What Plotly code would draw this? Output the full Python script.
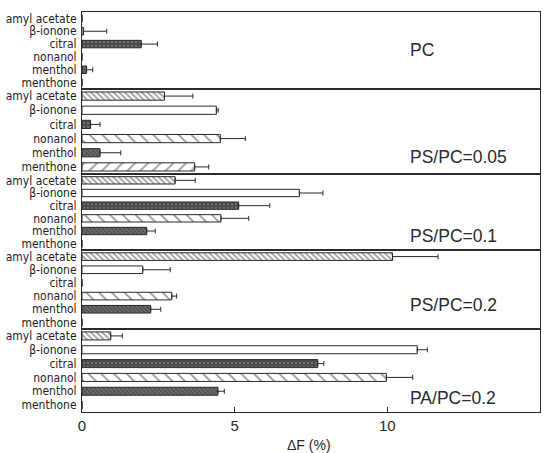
import plotly.graph_objects as go
from plotly.subplots import make_subplots

odorants = ["amyl acetate", "β-ionone", "citral", "nonanol", "menthol", "menthone"]
panels = ["PC", "PS/PC=0.05", "PS/PC=0.1", "PS/PC=0.2", "PA/PC=0.2"]

pc_mean = [0, 0.05, 1.94, 0, 0.15, 0]
pc_sd = [0, 0.76, 0.53, 0, 0.20, 0]
ps005_mean = [2.70, 4.40, 0.28, 4.53, 0.59, 3.69]
ps005_sd = [0.93, 0.06, 0.31, 0.82, 0.68, 0.46]
ps01_mean = [3.05, 7.12, 5.13, 4.55, 2.12, 0]
ps01_sd = [0.66, 0.77, 1.02, 0.91, 0.28, 0]
ps02_mean = [10.17, 1.99, 0, 2.94, 2.25, 0]
ps02_sd = [1.49, 0.90, 0, 0.16, 0.33, 0]
pa02_mean = [0.94, 10.98, 7.72, 9.97, 4.45, 0]
pa02_sd = [0.38, 0.33, 0.20, 0.86, 0.21, 0]

means = [pc_mean, ps005_mean, ps01_mean, ps02_mean, pa02_mean]
sds = [pc_sd, ps005_sd, ps01_sd, ps02_sd, pa02_sd]

x_ticks = [0, 5, 10, 15]
x_title = "ΔF (%)"

INK = "#2a2a2a"

# per-odorant fill styles
styles = {
    "amyl acetate": dict(color="white", pattern=dict(shape="\\", size=4, solidity=0.45, fgcolor="#333", bgcolor="white")),
    "β-ionone": dict(color="white"),
    "citral": dict(color="#555", pattern=dict(shape=".", size=4, solidity=0.25, fgcolor="#999", bgcolor="#4a4a4a")),
    "nonanol": dict(color="white", pattern=dict(shape="\\", size=9, solidity=0.2, fgcolor="#333", bgcolor="white")),
    "menthol": dict(color="#666", pattern=dict(shape="\\", size=3, solidity=0.5, fgcolor="#2a2a2a", bgcolor="#707070")),
    "menthone": dict(color="white", pattern=dict(shape="/", size=9, solidity=0.2, fgcolor="#333", bgcolor="white")),
}

row_px = [77, 85, 76, 79, 83]
fig = make_subplots(rows=5, cols=1, shared_xaxes=True, vertical_spacing=0,
                    row_heights=row_px)

for r, (m, s) in enumerate(zip(means, sds), start=1):
    for i, od in enumerate(odorants):
        st = styles[od]
        marker = dict(color=st["color"], line=dict(color=INK, width=1))
        if "pattern" in st:
            marker["pattern"] = st["pattern"]
        fig.add_trace(go.Bar(
            x=[m[i]], y=[od], orientation="h", width=0.58,
            marker=marker, showlegend=False,
            error_x=dict(type="data", symmetric=False, array=[s[i]], arrayminus=[0],
                         color=INK, thickness=1, width=2.5,
                         visible=bool(s[i] > 0)),
        ), row=r, col=1)

axis_font = dict(family="DejaVu Sans Condensed, Liberation Sans Narrow, Arial Narrow, sans-serif",
                 size=12, color="#1e1e1e")

for r in range(1, 6):
    fig.update_yaxes(type="category", categoryorder="array", categoryarray=odorants,
                     tickmode="array", tickvals=odorants, ticktext=odorants,
                     autorange="reversed", showline=True, mirror=True, linecolor=INK,
                     linewidth=1, ticks="", showgrid=False, zeroline=False, automargin=False,
                     tickfont=axis_font, ticklabelstandoff=2, row=r, col=1)
    fig.update_xaxes(range=[0, 15], showline=True, mirror=True, linecolor=INK,
                     linewidth=1, showgrid=False, zeroline=False, automargin=False,
                     row=r, col=1)

fig.update_xaxes(tickvals=x_ticks, ticks="inside", ticklen=5, tickcolor=INK,
                 tickfont=dict(family="Liberation Sans, Arial, sans-serif", size=15, color=INK),
                 row=5, col=1)

# x axis title
fig.add_annotation(text=x_title, xref="paper", yref="paper", x=0.495, y=-0.0825,
                   xanchor="center", yanchor="middle", showarrow=False,
                   font=dict(family="Liberation Sans, Arial, sans-serif", size=14, color=INK))

# panel labels (paper coords)
label_y = [0.905, 0.6375, 0.44, 0.2675, 0.036]
for txt, yy in zip(panels, label_y):
    fig.add_annotation(text=txt, xref="paper", yref="paper", x=0.711, y=yy,
                       xanchor="left", yanchor="middle", showarrow=False,
                       font=dict(family="Liberation Sans, Arial, sans-serif", size=17.5, color=INK))

fig.update_layout(width=547, height=453, margin=dict(l=82, r=7, t=12, b=41),
                  paper_bgcolor="white", plot_bgcolor="white", barmode="overlay")

fig.write_html("out.html", config={"displayModeBar": False},
               post_script="document.body.style.margin='0';document.body.style.overflow='hidden';")
